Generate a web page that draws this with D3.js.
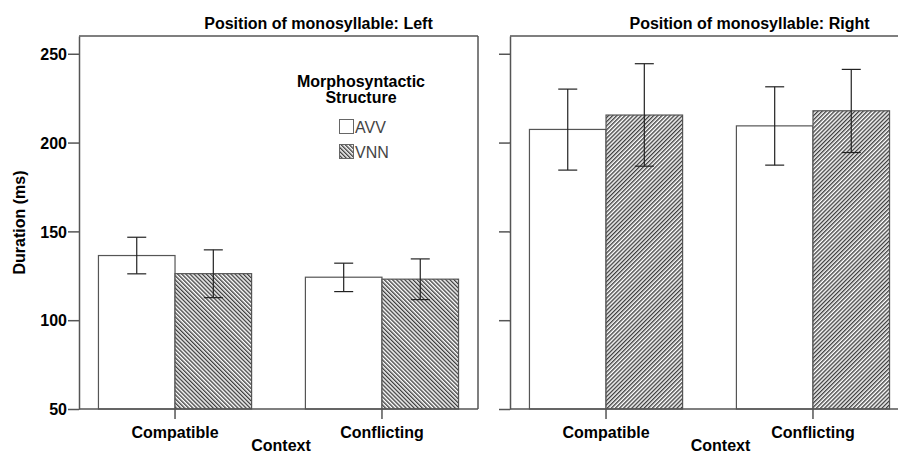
<!DOCTYPE html>
<html>
<head>
<meta charset="utf-8">
<script src="https://cdn.jsdelivr.net/npm/d3@7"></script>
<style>
  body { margin: 0; background: #fff; }
  text { font-family: "Liberation Sans", Arial, sans-serif; fill: #000; }
</style>
</head>
<body>
<div id="chart"></div>
<script>
// Categories and series
var contexts = ["Compatible", "Conflicting"];
var structures = ["AVV", "VNN"];
var panelNames = ["Left", "Right"];

// Mean durations (ms) per panel, values per context
var meansLeft  = { AVV: [136.4, 124.2], VNN: [126.2, 123.1] };
var meansRight = { AVV: [207.4, 209.4], VNN: [215.5, 217.9] };

// Error bar ends (low, high)
var lowLeft   = { AVV: [126.1, 116.1], VNN: [112.7, 111.6] };
var highLeft  = { AVV: [146.7, 132.1], VNN: [139.6, 134.5] };
var lowRight  = { AVV: [184.5, 187.3], VNN: [186.7, 194.4] };
var highRight = { AVV: [230.1, 231.4], VNN: [244.4, 241.2] };

var yTicks = [50, 100, 150, 200, 250];

var width = 898, height = 454;
var plotTop = 36, plotBottom = 409, panelW = 399;
var panelX = [79, 510];

var svg = d3.select("#chart").append("svg")
    .attr("width", width)
    .attr("height", height);

// hatch patterns
var defs = svg.append("defs");
function hatch(id, angle) {
    var p = defs.append("pattern")
        .attr("id", id)
        .attr("patternUnits", "userSpaceOnUse")
        .attr("width", 2.9)
        .attr("height", 2.9)
        .attr("patternTransform", "rotate(" + angle + ")");
    p.append("rect").attr("width", 2.9).attr("height", 2.9).attr("fill", "#fff");
    p.append("line")
        .attr("x1", 0.7).attr("y1", 0).attr("x2", 0.7).attr("y2", 2.9)
        .attr("stroke", "#333").attr("stroke-width", 1.3);
}
hatch("hatchBack", -45);
hatch("hatchFwd", 45);

var y = d3.scaleLinear().domain([50, 260]).range([plotBottom, plotTop]);

var panels = [
    { name: panelNames[0], means: meansLeft, low: lowLeft, high: highLeft, fill: "url(#hatchBack)" },
    { name: panelNames[1], means: meansRight, low: lowRight, high: highRight, fill: "url(#hatchFwd)" }
];

panels.forEach(function (pd, i) {
    var g = svg.append("g").attr("transform", "translate(" + panelX[i] + ",0)");

    var x0 = d3.scaleBand().domain(contexts).range([0, panelW])
        .paddingInner(0.26).paddingOuter(0.094);
    var x1 = d3.scaleBand().domain(structures).range([0, x0.bandwidth()]);

    // frame (top and right)
    g.append("line").attr("x1", 0).attr("x2", panelW).attr("y1", plotTop).attr("y2", plotTop)
        .attr("stroke", "#555").attr("stroke-width", 1.5);
    g.append("line").attr("x1", panelW).attr("x2", panelW).attr("y1", plotTop).attr("y2", plotBottom)
        .attr("stroke", "#555").attr("stroke-width", 1.5);

    // bars
    structures.forEach(function (s) {
        g.selectAll(".bar" + s)
            .data(contexts)
            .enter()
            .append("rect")
            .attr("x", function (c) { return x0(c) + x1(s); })
            .attr("y", function (c, j) { return y(pd.means[s][j]); })
            .attr("width", x1.bandwidth())
            .attr("height", function (c, j) { return plotBottom - y(pd.means[s][j]); })
            .attr("fill", s === "AVV" ? "#fff" : pd.fill)
            .attr("stroke", "#555")
            .attr("stroke-width", 1.2);
    });

    // error bars
    structures.forEach(function (s) {
        contexts.forEach(function (c, j) {
            var cx = x0(c) + x1(s) + x1.bandwidth() / 2;
            var eg = g.append("g").attr("stroke", "#222").attr("stroke-width", 1.2);
            eg.append("line").attr("x1", cx).attr("x2", cx)
                .attr("y1", y(pd.low[s][j])).attr("y2", y(pd.high[s][j]));
            eg.append("line").attr("x1", cx - 9.5).attr("x2", cx + 9.5)
                .attr("y1", y(pd.low[s][j])).attr("y2", y(pd.low[s][j]));
            eg.append("line").attr("x1", cx - 9.5).attr("x2", cx + 9.5)
                .attr("y1", y(pd.high[s][j])).attr("y2", y(pd.high[s][j]));
        });
    });

    // y axis
    var yAxis = g.append("g")
        .call(d3.axisLeft(y).tickValues(yTicks).tickSize(11).tickSizeOuter(0).tickPadding(1)
            .tickFormat(i === 0 ? d3.format("d") : ""));
    yAxis.select(".domain").attr("stroke", "#555").attr("stroke-width", 1.5);
    yAxis.selectAll(".tick line").attr("stroke", "#555").attr("stroke-width", 1.5);
    yAxis.selectAll("text")
        .style("font-size", "16px").style("font-weight", "bold")
        .attr("dy", "0.36em");

    // x axis
    var xAxis = g.append("g")
        .attr("transform", "translate(0," + plotBottom + ")")
        .call(d3.axisBottom(x0).tickSize(10).tickSizeOuter(0).tickPadding(5).offset(0));
    xAxis.select(".domain").attr("stroke", "#555").attr("stroke-width", 1.5);
    xAxis.selectAll(".tick line").attr("stroke", "#555").attr("stroke-width", 1.5);
    xAxis.selectAll("text")
        .style("font-size", "16px").style("font-weight", "bold")
        .attr("dy", "0.9em");

    // x title
    g.append("text")
        .attr("x", panelW / 2 + (i === 0 ? 2.5 : 11))
        .attr("y", 451)
        .attr("text-anchor", "middle")
        .style("font-size", "16px").style("font-weight", "bold")
        .text("Context");

    // panel title
    g.append("text")
        .attr("x", panelW / 2 + 40)
        .attr("y", 29)
        .attr("text-anchor", "middle")
        .style("font-size", "16px").style("font-weight", "bold")
        .text("Position of monosyllable: " + pd.name);
});

// y axis title
svg.append("text")
    .attr("transform", "translate(25," + ((plotTop + plotBottom) / 2) + ") rotate(-90)")
    .attr("text-anchor", "middle")
    .style("font-size", "16px").style("font-weight", "bold")
    .text("Duration (ms)");

// legend
var legend = svg.append("g").attr("transform", "translate(339,0)");
legend.append("text")
    .attr("x", 22).attr("y", 87)
    .attr("text-anchor", "middle")
    .style("font-size", "16px").style("font-weight", "bold")
    .text("Morphosyntactic");
legend.append("text")
    .attr("x", 22).attr("y", 103)
    .attr("text-anchor", "middle")
    .style("font-size", "16px").style("font-weight", "bold")
    .text("Structure");

structures.forEach(function (s, k) {
    legend.append("rect")
        .attr("x", 0.5).attr("y", 119.5 + k * 25)
        .attr("width", 14).attr("height", 14)
        .attr("fill", s === "AVV" ? "#fff" : "url(#hatchBack)")
        .attr("stroke", "#666").attr("stroke-width", 1);
    legend.append("text")
        .attr("x", 16).attr("y", 133 + k * 25)
        .style("font-size", "16px")
        .style("fill", "#444")
        .text(s);
});
</script>
</body>
</html>
